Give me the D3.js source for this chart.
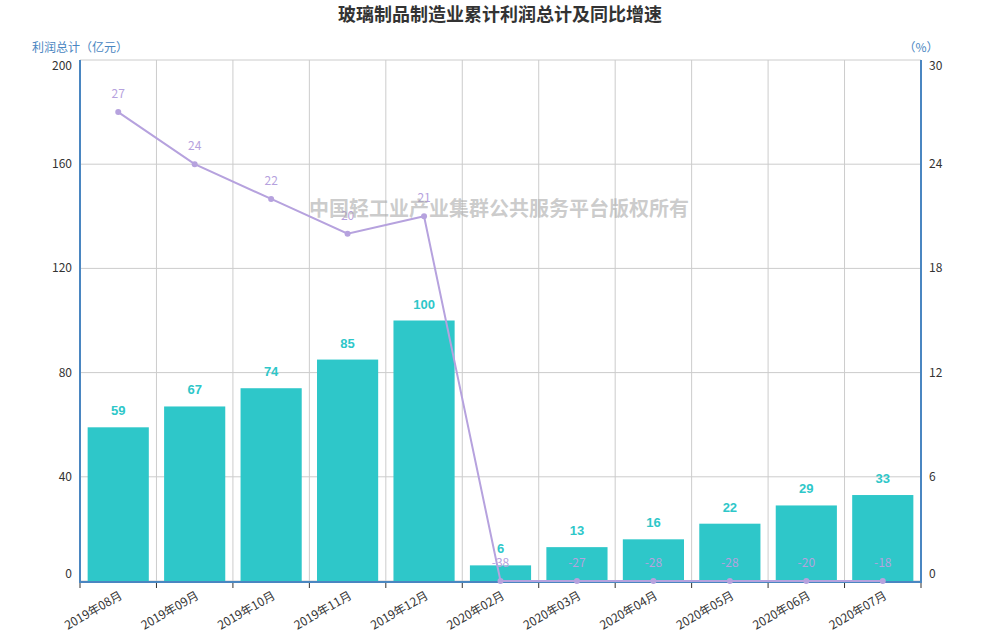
<!DOCTYPE html>
<html>
<head>
<meta charset="utf-8">
<script src="https://cdn.jsdelivr.net/npm/d3@7"></script>
<style>
  body { margin: 0; background: #fff; }
  text { font-family: "Microsoft YaHei", "Noto Sans CJK SC", sans-serif; }
</style>
</head>
<body>
<div id="chart"></div>
<script>
const months = ['2019年08月', '2019年09月', '2019年10月', '2019年11月', '2019年12月',
  '2020年02月', '2020年03月', '2020年04月', '2020年05月', '2020年06月', '2020年07月'];
const profit = [59, 67, 74, 85, 100, 6, 13, 16, 22, 29, 33];   // 亿元
const growth = [27, 24, 22, 20, 21, -38, -27, -28, -28, -20, -18]; // %
const leftTicks = [0, 40, 80, 120, 160, 200];
const rightTicks = [0, 6, 12, 18, 24, 30];

const width = 1000, height = 640;
const margin = {top: 60, right: 79, bottom: 59, left: 80};
const axisBlue = '#4a86c1';
const barColor = '#2ec7c9';
const lineColor = '#b6a2de';

const svg = d3.select('#chart').append('svg')
  .attr('width', width)
  .attr('height', height);

const x = d3.scaleBand()
  .domain(months)
  .range([margin.left, width - margin.right])
  .paddingInner(0.2)
  .paddingOuter(0.1);
const xBand = d3.scaleBand().domain(months).range([margin.left, width - margin.right]);
const center = d => xBand(d) + xBand.bandwidth() / 2;

const y = d3.scaleLinear().domain([0, 200]).range([height - margin.bottom, margin.top]);
const y2 = d3.scaleLinear().domain([0, 30]).range([height - margin.bottom, margin.top]).clamp(true);

// first / last tick labels are pushed inside the plot, like echarts does
const labelY = (scale, d, i, n) => {
  if (i === 0) return scale(d) - 3;
  if (i === n - 1) return scale(d) + 10;
  return scale(d) + 4;
};

// title
svg.append('text')
  .attr('x', width / 2).attr('y', 21)
  .attr('text-anchor', 'middle')
  .style('font-size', '18px').style('font-weight', 'bold').attr('fill', '#333')
  .text('玻璃制品制造业累计利润总计及同比增速');

// grid
svg.append('g').selectAll('line.h')
  .data(leftTicks)
  .join('line')
  .attr('x1', margin.left).attr('x2', width - margin.right)
  .attr('y1', d => y(d)).attr('y2', d => y(d))
  .attr('stroke', '#ccc');
svg.append('g').selectAll('line.v')
  .data(months.slice(1).concat(['end']))
  .join('line')
  .attr('x1', (d, i) => i < months.length - 1 ? xBand(d) : width - margin.right)
  .attr('x2', (d, i) => i < months.length - 1 ? xBand(d) : width - margin.right)
  .attr('y1', y(200)).attr('y2', y(0))
  .attr('stroke', '#ccc');

// bars
svg.append('g').selectAll('rect')
  .data(profit)
  .join('rect')
  .attr('x', (d, i) => x(months[i]))
  .attr('width', x.bandwidth())
  .attr('y', d => y(d))
  .attr('height', d => y(0) - y(d))
  .attr('fill', barColor);

svg.append('g').selectAll('text')
  .data(profit)
  .join('text')
  .attr('x', (d, i) => center(months[i]))
  .attr('y', d => y(d) - 12)
  .attr('text-anchor', 'middle')
  .attr('fill', barColor)
  .style('font-family', 'Arial, "Liberation Sans", sans-serif')
  .style('font-size', '13px').style('font-weight', 'bold')
  .text(d => d);

// axes
const xAxis = svg.append('g')
  .attr('transform', `translate(0,${y(0) + 1})`);
xAxis.append('line')
  .attr('x1', margin.left).attr('x2', width - margin.right)
  .attr('stroke', axisBlue).attr('stroke-width', 2);
xAxis.selectAll('line.tick')
  .data(months.concat(['end']))
  .join('line')
  .attr('class', 'tick')
  .attr('x1', (d, i) => i < months.length ? xBand(d) : width - margin.right)
  .attr('x2', (d, i) => i < months.length ? xBand(d) : width - margin.right)
  .attr('y1', 1).attr('y2', 6)
  .attr('stroke', '#333');
xAxis.selectAll('text')
  .data(months)
  .join('text')
  .attr('transform', d => `translate(${center(d) + 5},${16}) rotate(-30)`)
  .attr('text-anchor', 'end')
  .attr('fill', '#333')
  .style('font-size', '12px')
  .text(d => d);

svg.append('line')
  .attr('x1', margin.left).attr('x2', margin.left)
  .attr('y1', y(200)).attr('y2', y(0) + 2)
  .attr('stroke', axisBlue).attr('stroke-width', 2);
svg.append('line')
  .attr('x1', width - margin.right).attr('x2', width - margin.right)
  .attr('y1', y(200)).attr('y2', y(0) + 2)
  .attr('stroke', axisBlue).attr('stroke-width', 2);

svg.append('g').selectAll('text')
  .data(leftTicks)
  .join('text')
  .attr('x', margin.left - 8).attr('y', (d, i) => labelY(y, d, i, leftTicks.length))
  .attr('text-anchor', 'end').attr('fill', '#333')
  .style('font-size', '12px')
  .text(d => d);
svg.append('g').selectAll('text')
  .data(rightTicks)
  .join('text')
  .attr('x', width - margin.right + 8).attr('y', (d, i) => labelY(y2, d, i, rightTicks.length))
  .attr('text-anchor', 'start').attr('fill', '#333')
  .style('font-size', '12px')
  .text(d => d);

svg.append('text')
  .attr('x', 32).attr('y', 52)
  .attr('fill', axisBlue).style('font-size', '12px')
  .text('利润总计（亿元）');
svg.append('text')
  .attr('x', 921).attr('y', 52)
  .attr('text-anchor', 'middle')
  .attr('fill', axisBlue).style('font-size', '12px')
  .text('（%）');

// growth line
const line = d3.line()
  .x((d, i) => center(months[i]))
  .y(d => y2(d));
svg.append('path')
  .datum(growth)
  .attr('d', line)
  .attr('fill', 'none')
  .attr('stroke', lineColor)
  .attr('stroke-width', 2);
svg.append('g').selectAll('circle')
  .data(growth)
  .join('circle')
  .attr('cx', (d, i) => center(months[i]))
  .attr('cy', d => y2(d))
  .attr('r', 3)
  .attr('fill', lineColor);
svg.append('g').selectAll('text')
  .data(growth)
  .join('text')
  .attr('x', (d, i) => center(months[i]))
  .attr('y', d => y2(d) - 14)
  .attr('text-anchor', 'middle')
  .attr('fill', lineColor)
  .style('font-size', '12px')
  .text(d => d);

// watermark
svg.append('text')
  .attr('x', 499).attr('y', 216)
  .attr('text-anchor', 'middle')
  .attr('fill', '#aaa').attr('fill-opacity', 0.6)
  .style('font-size', '20px').style('font-weight', 'bold')
  .text('中国轻工业产业集群公共服务平台版权所有');
</script>
</body>
</html>
